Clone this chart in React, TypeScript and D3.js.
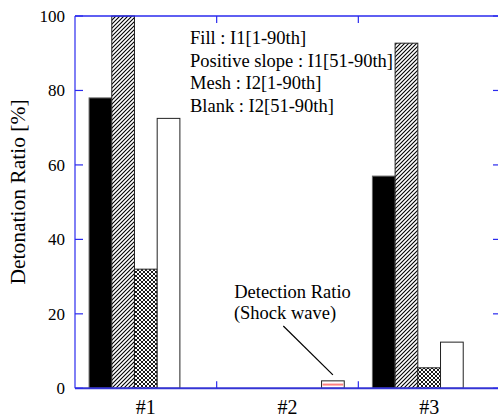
import React from "react";
import * as d3 from "d3";

const categories = ["#1", "#2", "#3"];
const seriesKeys = ["fill", "positive", "mesh", "blank", "detection"];
const fillValues = [78, 0, 57];
const positiveValues = [100, 0, 92.7];
const meshValues = [32, 0, 5.5];
const blankValues = [72.5, 0, 12.4];
const detectionValues = [0, 2, 0];
const yTicks = [0, 20, 40, 60, 80, 100];
const legendLines = [
  "Fill : I1[1-90th]",
  "Positive slope : I1[51-90th]",
  "Mesh : I2[1-90th]",
  "Blank : I2[51-90th]",
];

const W = 498;
const H = 419;
const left = 75;
const right = 500;
const top = 16;
const bottom = 388.3;
const AXIS = "#2a2aee";
const FONT = "'Liberation Serif', 'Times New Roman', serif";

export default function App() {
  const x = d3.scaleBand<string>().domain(categories).range([left, right]).padding(0);
  const inner = d3
    .scaleBand<string>()
    .domain(seriesKeys)
    .range([0, x.bandwidth()])
    .paddingInner(0)
    .paddingOuter(0.62);
  const y = d3.scaleLinear().domain([0, 100]).range([bottom, top]);

  const seriesData: Record<string, number[]> = {
    fill: fillValues,
    positive: positiveValues,
    mesh: meshValues,
    blank: blankValues,
    detection: detectionValues,
  };

  const fillFor = (k: string) =>
    k === "fill" ? "#000" : k === "positive" ? "url(#hatch)" : k === "mesh" ? "url(#mesh)" : "#fff";
  const strokeFor = (k: string) => (k === "fill" ? "#666" : "#222");

  const bars: React.ReactNode[] = [];
  seriesKeys.forEach((k) => {
    seriesData[k].forEach((v, i) => {
      if (v <= 0) return;
      const bx = (x(categories[i]) as number) + (inner(k) as number);
      const bw = inner.bandwidth();
      const by = y(v);
      const bh = bottom - by;
      bars.push(
        <rect
          key={k + i}
          x={bx}
          y={by}
          width={bw}
          height={bh}
          fill={fillFor(k)}
          stroke={strokeFor(k)}
          strokeWidth={1}
        />
      );
      if (k === "detection") {
        bars.push(
          <line
            key={k + i + "r"}
            x1={bx + 1}
            x2={bx + bw - 1}
            y1={y(v / 2)}
            y2={y(v / 2)}
            stroke="#ff8080"
            strokeWidth={2}
          />
        );
      }
    });
  });

  const xBoundaries = categories.slice(1).map((c) => x(c) as number);
  const detX = (x("#2") as number) + (inner("detection") as number) + inner.bandwidth() / 2;

  return (
    <svg
      width={W}
      height={H}
      style={{ position: "absolute", left: 0, top: 0, background: "#fff" }}
      fontFamily={FONT}
    >
      <defs>
        <pattern id="hatch" patternUnits="userSpaceOnUse" width="4" height="4">
          <rect width="4" height="4" fill="#fff" />
          <path d="M-1,1 l2,-2 M0,4 l4,-4 M3,5 l2,-2" stroke="#000" strokeWidth="1.1" />
        </pattern>
        <pattern id="mesh" patternUnits="userSpaceOnUse" width="4" height="4">
          <rect width="4" height="4" fill="#fff" />
          <path d="M-1,1 l2,-2 M0,4 l4,-4 M3,5 l2,-2 M-1,3 l2,2 M0,0 l4,4 M3,-1 l2,2" stroke="#000" strokeWidth="0.9" />
        </pattern>
      </defs>

      {bars}

      <line x1={left} x2={right} y1={top} y2={top} stroke={AXIS} strokeWidth={1.3} />
      <line x1={left} x2={left} y1={top} y2={bottom} stroke={AXIS} strokeWidth={1.2} />
      <line x1={right} x2={right} y1={top} y2={bottom} stroke={AXIS} strokeWidth={1.2} />
      <line x1={left} x2={right} y1={bottom} y2={bottom} stroke="#3535d5" strokeWidth={2} />

      {yTicks.map((t) => (
        <g key={t}>
          <line x1={left} x2={left + 8} y1={y(t)} y2={y(t)} stroke={AXIS} strokeWidth={1.2} />
          <line x1={right - 7} x2={right} y1={y(t)} y2={y(t)} stroke={AXIS} strokeWidth={1.2} />
          <text x={65} y={y(t)} dy="0.35em" textAnchor="end" fontSize={17}>
            {t}
          </text>
        </g>
      ))}
      {xBoundaries.map((b, i) => (
        <g key={i}>
          <line x1={b} x2={b} y1={top} y2={top + 7} stroke={AXIS} strokeWidth={1.2} />
          <line x1={b} x2={b} y1={bottom} y2={bottom - 7} stroke={AXIS} strokeWidth={1.2} />
        </g>
      ))}
      {categories.map((c) => (
        <text
          key={c}
          x={(x(c) as number) + x.bandwidth() / 2}
          y={407}
          dy="0.35em"
          textAnchor="middle"
          fontSize={20}
        >
          {c}
        </text>
      ))}

      <text
        transform={`translate(17,192) rotate(-90)`}
        textAnchor="middle"
        dy="0.35em"
        fontSize={21.5}
      >
        Detonation Ratio [%]
      </text>

      {legendLines.map((l, i) => (
        <text key={l} x={190} y={38 + i * 22.5} dy="0.35em" fontSize={18.5}>
          {l}
        </text>
      ))}

      <text x={292.5} y={292} dy="0.35em" textAnchor="middle" fontSize={18.5}>
        Detection Ratio
      </text>
      <text x={285} y={313} dy="0.35em" textAnchor="middle" fontSize={18.5}>
        (Shock wave)
      </text>
      <line x1={283.3} y1={326} x2={detX} y2={y(detectionValues[1]) - 6} stroke="#000" strokeWidth={1.2} />
    </svg>
  );
}
